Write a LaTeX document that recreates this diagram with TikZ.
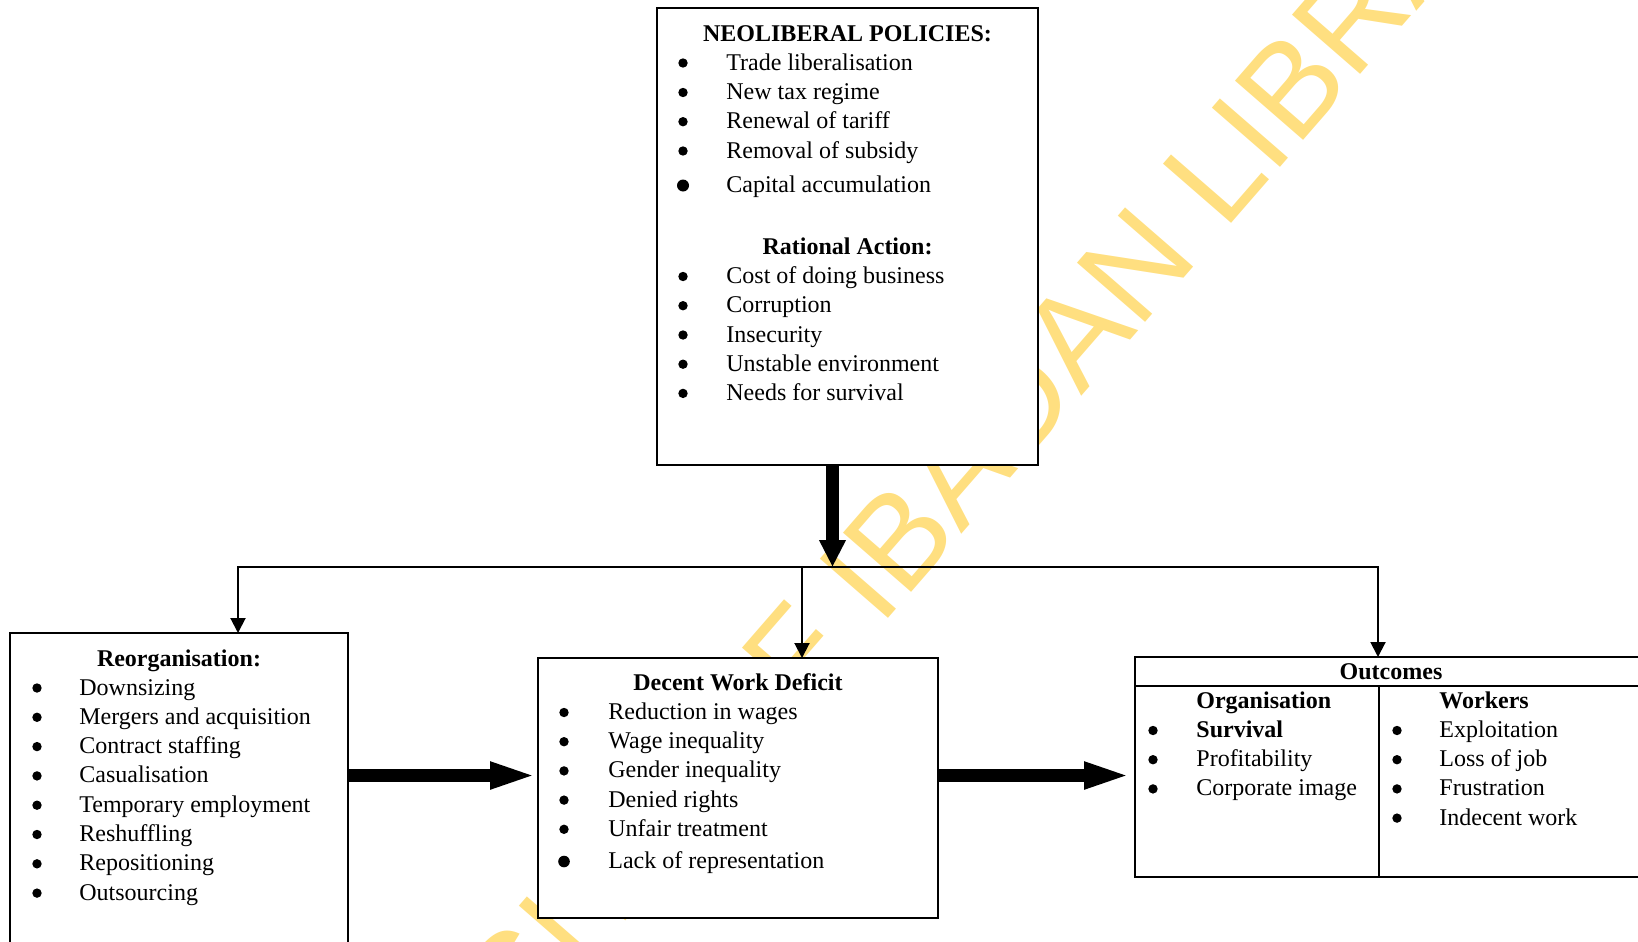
\documentclass[tikz,border=0pt]{standalone}
\usepackage{fontspec}
\setmainfont{Liberation Serif}
\newfontfamily\wmfont{Liberation Sans}
\usetikzlibrary{arrows.meta}
\definecolor{wmyellow}{RGB}{255,223,128}
\newcommand\itm[6][2.35pt]{%
  \fill[yshift=3.5pt] (#3,#5) circle[radius=#1];
  \node[item] (#2) at (#4,#5) {#6};}
\begin{document}
\begin{tikzpicture}[x=0.5pt,y=-0.5pt,
  box/.style={draw, fill=white, line width=1pt, inner sep=0pt, outer sep=0pt, anchor=north west},
  item/.style={anchor=base west, inner sep=0pt, font=\fontsize{12}{14}\selectfont},
  head/.style={anchor=base, inner sep=0pt, font=\fontsize{12}{14}\selectfont\bfseries},
  headw/.style={anchor=base west, inner sep=0pt, font=\fontsize{12}{14}\selectfont\bfseries},
  wm/.style={anchor=base, rotate=49, inner sep=0pt, text=wmyellow, font=\wmfont\fontsize{65.6}{70}\selectfont},
  thinline/.style={line width=1pt, line cap=rect},
  thinarrow/.style={line width=1pt, -{Triangle[length=7.5pt,width=7.5pt]}},
  bigh/.style={line width=6.5pt, -{Triangle[length=24pt,width=12pt]}},
  bigv/.style={line width=6.5pt, -{Triangle[length=13.5pt,width=12.5pt]}}]
\useasboundingbox (0,0) rectangle (1638,942);
\clip (0,0) rectangle (1638,942);

% watermark
\node[wm] (wm) at (894,612) {UNIVERSITY OF IBADAN LIBRARY};

% boxes
\node[box, minimum width=190.5pt, minimum height=228.5pt] (top) at (657,8) {};
\node[box, minimum width=169pt, minimum height=170pt] (left) at (10,633) {};
\node[box, minimum width=200pt, minimum height=130pt] (mid) at (538,658) {};
\node[box, minimum width=256pt, minimum height=110pt] (out) at (1135,657) {};
\coordinate (hdl) at (1135,686);
\coordinate (hdr) at (1647,686);
\coordinate (dvt) at (1379,686);
\coordinate (dvb) at (1379,877);
\draw[line width=1pt] (hdl) -- (hdr);
\draw[line width=1pt] (dvt) -- (dvb);

% top box text
\node[head] (nh) at (847.5,41.7) {NEOLIBERAL POLICIES:};
\itm{t1}{683}{726}{70}{Trade liberalisation}
\itm{t2}{683}{726}{99.5}{New tax regime}
\itm{t3}{683}{726}{128.7}{Renewal of tariff}
\itm{t4}{683}{726}{158}{Removal of subsidy}
\itm[3pt]{t5}{683}{726}{192.5}{Capital accumulation}
\node[head] (rh) at (847.5,254.5) {Rational Action:};
\itm{r1}{683}{726}{283.5}{Cost of doing business}
\itm{r2}{683}{726}{312.7}{Corruption}
\itm{r3}{683}{726}{342}{Insecurity}
\itm{r4}{683}{726}{371.2}{Unstable environment}
\itm{r5}{683}{726}{400.4}{Needs for survival}

% left box text
\node[head] (lh) at (179,666) {Reorganisation:};
\itm{l1}{37}{79}{695}{Downsizing}
\itm{l2}{37}{79}{724.3}{Mergers and acquisition}
\itm{l3}{37}{79}{753.6}{Contract staffing}
\itm{l4}{37}{79}{782.9}{Casualisation}
\itm{l5}{37}{79}{812.2}{Temporary employment}
\itm{l6}{37}{79}{841.5}{Reshuffling}
\itm{l7}{37}{79}{870.8}{Repositioning}
\itm{l8}{37}{79}{900.1}{Outsourcing}

% middle box text
\node[head] (mh) at (738,690) {Decent Work Deficit};
\itm{m1}{564}{608}{719.5}{Reduction in wages}
\itm{m2}{564}{608}{748.7}{Wage inequality}
\itm{m3}{564}{608}{777.9}{Gender inequality}
\itm{m4}{564}{608}{807.1}{Denied rights}
\itm{m5}{564}{608}{836.3}{Unfair treatment}
\itm[2.9pt]{m6}{564}{608}{868.5}{Lack of representation}

% outcomes text
\node[head] (oh) at (1391,679) {Outcomes};
\node[headw] (oo) at (1196,708) {Organisation};
\itm{o1}{1153}{1196}{737.5}{\bfseries Survival}
\itm{o2}{1153}{1196}{766.7}{Profitability}
\itm{o3}{1153}{1196}{795.9}{Corporate image}
\node[headw] (ow) at (1439,708) {Workers};
\itm{w1}{1397}{1439}{737.5}{Exploitation}
\itm{w2}{1397}{1439}{766.7}{Loss of job}
\itm{w3}{1397}{1439}{795.9}{Frustration}
\itm{w4}{1397}{1439}{825.1}{Indecent work}

% connectors
\coordinate (j) at (832.5,567);
\coordinate (hl) at (238,567);
\coordinate (hm) at (802,567);
\coordinate (hr) at (1378,567);
\coordinate (ya) at (0,775.5);
\draw[thinline] (hl) -- (hr);
\draw[thinarrow] (hl) -- (hl |- left.north);
\draw[thinarrow] (hm) -- (hm |- mid.north);
\draw[thinarrow] (hr) -- (hr |- out.north);
\draw[bigv] (top.south -| j) -- (j);
\draw[bigh] (left.east |- ya) -- (mid.west |- ya);
\draw[bigh, shorten >=1.5pt] (mid.east |- ya) -- (out.west |- ya);
\end{tikzpicture}
\end{document}
